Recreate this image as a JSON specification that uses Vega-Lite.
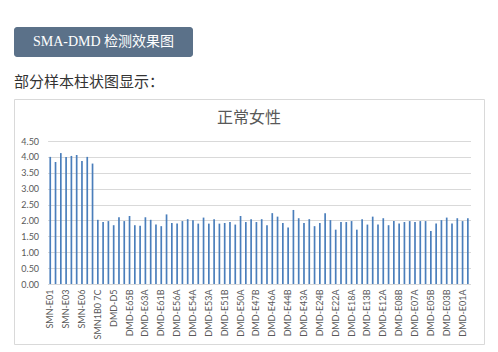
{
  "$schema": "https://vega.github.io/schema/vega-lite/v6.json",
  "background": "white",
  "padding": {"left": 13, "top": 27, "right": 0, "bottom": 0},
  "spacing": 17,
  "config": {"font": "Lato"},
  "vconcat": [
    {
      "width": 179,
      "height": 30,
      "view": {"fill": "#5b7189", "stroke": null, "cornerRadius": 3},
      "data": {"values": [{"heading": "SMA-DMD 检测效果图"}]},
      "mark": {"type": "text", "color": "white", "font": "Liberation Serif, Noto Sans CJK SC", "fontSize": 14, "baseline": "middle"},
      "encoding": {"text": {"field": "heading"}}
    },
    {
      "width": 470,
      "height": 245,
      "view": {"stroke": "#d9d9d9", "fill": "white"},
      "title": {"text": "部分样本柱状图显示：", "anchor": "start", "frame": "bounds", "font": "Noto Sans CJK SC", "fontSize": 15, "fontWeight": "normal", "color": "#333333", "offset": 9},
      "layer": [
        {
          "data": {"values": [
            {"sample": "SMN-E01", "value": 4.00},
            {"sample": "#2", "value": 3.84},
            {"sample": "#3", "value": 4.12},
            {"sample": "SMN-E03", "value": 4.00},
            {"sample": "#5", "value": 4.03},
            {"sample": "#6", "value": 4.06},
            {"sample": "SMN-E06", "value": 3.87},
            {"sample": "#8", "value": 4.00},
            {"sample": "#9", "value": 3.79},
            {"sample": "SMN1B0 7C", "value": 2.02},
            {"sample": "#11", "value": 1.95},
            {"sample": "#12", "value": 1.98},
            {"sample": "DMD-D5", "value": 1.85},
            {"sample": "#14", "value": 2.10},
            {"sample": "#15", "value": 1.98},
            {"sample": "DMD-E65B", "value": 2.14},
            {"sample": "#17", "value": 1.85},
            {"sample": "#18", "value": 1.83},
            {"sample": "DMD-E63A", "value": 2.10},
            {"sample": "#20", "value": 2.02},
            {"sample": "#21", "value": 1.87},
            {"sample": "DMD-E61B", "value": 1.82},
            {"sample": "#23", "value": 2.19},
            {"sample": "#24", "value": 1.92},
            {"sample": "DMD-E56A", "value": 1.90},
            {"sample": "#26", "value": 1.98},
            {"sample": "#27", "value": 2.04},
            {"sample": "DMD-E54A", "value": 2.01},
            {"sample": "#29", "value": 1.90},
            {"sample": "#30", "value": 2.09},
            {"sample": "DMD-E53A", "value": 1.90},
            {"sample": "#32", "value": 2.04},
            {"sample": "#33", "value": 1.90},
            {"sample": "DMD-E51B", "value": 1.92},
            {"sample": "#35", "value": 1.95},
            {"sample": "#36", "value": 1.87},
            {"sample": "DMD-E50A", "value": 2.14},
            {"sample": "#38", "value": 1.95},
            {"sample": "#39", "value": 2.04},
            {"sample": "DMD-E47B", "value": 1.95},
            {"sample": "#41", "value": 2.04},
            {"sample": "#42", "value": 1.85},
            {"sample": "DMD-E46A", "value": 2.23},
            {"sample": "#44", "value": 2.12},
            {"sample": "#45", "value": 1.92},
            {"sample": "DMD-E44B", "value": 1.78},
            {"sample": "#47", "value": 2.33},
            {"sample": "#48", "value": 2.07},
            {"sample": "DMD-E43A", "value": 1.92},
            {"sample": "#50", "value": 2.04},
            {"sample": "#51", "value": 1.82},
            {"sample": "DMD-E24B", "value": 1.92},
            {"sample": "#53", "value": 2.23},
            {"sample": "#54", "value": 2.01},
            {"sample": "DMD-E22A", "value": 1.71},
            {"sample": "#56", "value": 1.95},
            {"sample": "#57", "value": 1.95},
            {"sample": "DMD-E18A", "value": 1.98},
            {"sample": "#59", "value": 1.71},
            {"sample": "#60", "value": 2.04},
            {"sample": "DMD-E13B", "value": 1.87},
            {"sample": "#62", "value": 2.12},
            {"sample": "#63", "value": 1.87},
            {"sample": "DMD-E12A", "value": 2.07},
            {"sample": "#65", "value": 1.85},
            {"sample": "#66", "value": 1.98},
            {"sample": "DMD-E08B", "value": 1.90},
            {"sample": "#68", "value": 1.95},
            {"sample": "#69", "value": 1.98},
            {"sample": "DMD-E07A", "value": 1.95},
            {"sample": "#71", "value": 1.98},
            {"sample": "#72", "value": 1.98},
            {"sample": "DMD-E05B", "value": 1.67},
            {"sample": "#74", "value": 1.90},
            {"sample": "#75", "value": 2.01},
            {"sample": "DMD-E03B", "value": 2.09},
            {"sample": "#77", "value": 1.90},
            {"sample": "#78", "value": 2.07},
            {"sample": "DMD-E01A", "value": 1.98},
            {"sample": "#80", "value": 2.07}
          ]},
          "mark": {"type": "bar", "color": "#4a7ebb"},
          "encoding": {
            "x": {
              "field": "sample", "type": "nominal", "sort": null,
              "scale": {"range": [33.6, 456.5], "paddingInner": 0.68, "paddingOuter": 0.34},
              "axis": {
                "orient": "bottom", "offset": -60, "title": null,
                "values": ["SMN-E01", "SMN-E03", "SMN-E06", "SMN1B0 7C", "DMD-D5", "DMD-E65B", "DMD-E63A", "DMD-E61B", "DMD-E56A", "DMD-E54A", "DMD-E53A", "DMD-E51B", "DMD-E50A", "DMD-E47B", "DMD-E46A", "DMD-E44B", "DMD-E43A", "DMD-E24B", "DMD-E22A", "DMD-E18A", "DMD-E13B", "DMD-E12A", "DMD-E08B", "DMD-E07A", "DMD-E05B", "DMD-E03B", "DMD-E01A"],
                "labelAngle": -90, "labelFontSize": 9, "labelColor": "#595959", "labelPadding": 5,
                "ticks": false, "domain": true, "domainColor": "#d9d9d9", "grid": false
              }
            },
            "y": {
              "field": "value", "type": "quantitative",
              "scale": {"domain": [0, 4.5], "range": [185, 42], "nice": false, "zero": true},
              "axis": {
                "orient": "left", "offset": -33.6, "title": null,
                "values": [0, 0.5, 1, 1.5, 2, 2.5, 3, 3.5, 4, 4.5], "format": ".2f",
                "labelFontSize": 9, "labelColor": "#595959", "labelPadding": 9,
                "ticks": false, "domain": false, "grid": true, "gridColor": "#d9d9d9"
              }
            }
          }
        },
        {
          "data": {"values": [{"chart": "正常女性"}]},
          "mark": {"type": "text", "font": "Noto Sans CJK SC", "fontSize": 16, "color": "#595959", "baseline": "middle", "dy": -103.5},
          "encoding": {"text": {"field": "chart"}}
        }
      ]
    }
  ]
}
